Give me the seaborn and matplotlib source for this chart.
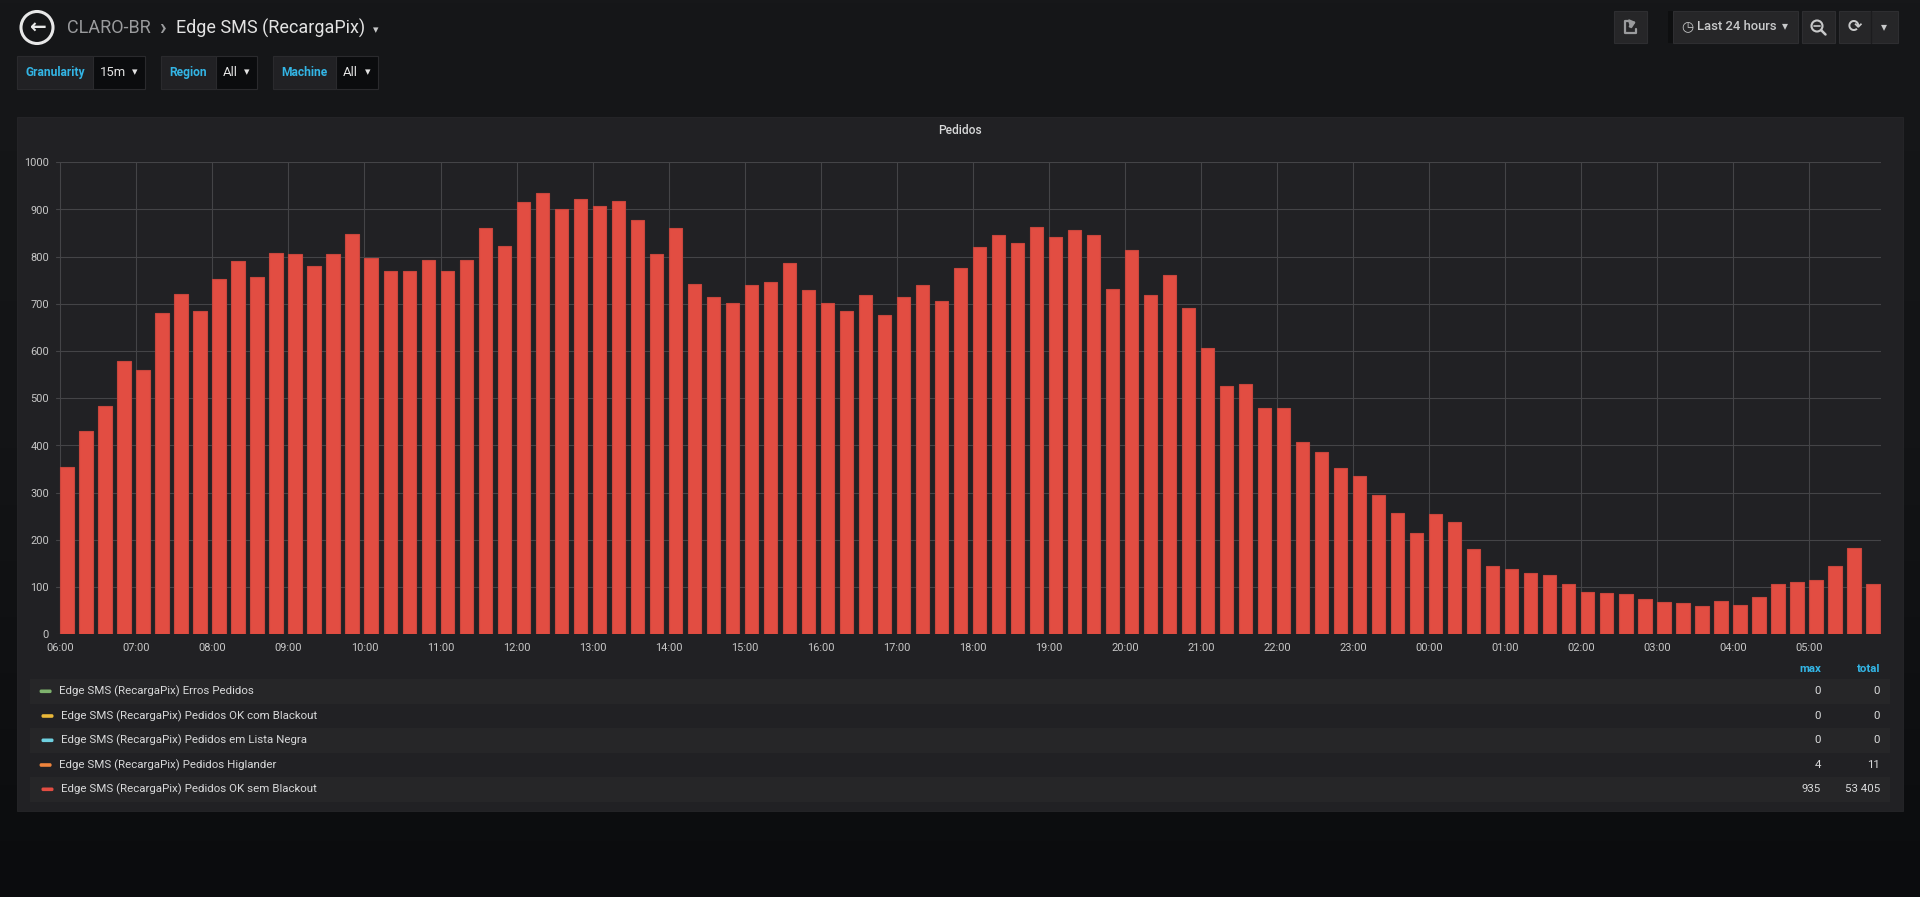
import numpy as np
import pandas as pd
import matplotlib
matplotlib.use("Agg")
import matplotlib.pyplot as plt
from matplotlib.patches import Rectangle, Circle, FancyBboxPatch, FancyArrowPatch
from matplotlib.colors import LinearSegmentedColormap
import seaborn as sns

# ---------------- data ----------------
pedidos = [355, 431, 484, 578, 561, 681, 720, 686, 752, 790, 757, 807,
           806, 781, 805, 849, 797, 770, 770, 794, 770, 792, 860, 823,
           916, 935, 900, 922, 907, 917, 877, 806, 860, 742, 715, 701,
           739, 746, 786, 730, 701, 684, 718, 676, 714, 739, 706, 775,
           820, 847, 828, 862, 842, 856, 847, 731, 814, 718, 761, 691,
           606, 527, 530, 480, 479, 408, 386, 353, 335, 295, 256, 214,
           255, 238, 181, 145, 138, 130, 125, 106, 90, 88, 85, 74,
           68, 66, 59, 71, 63, 78, 106, 110, 114, 145, 183, 106]
slot_times = [f"{(6 + i // 4) % 24:02d}:{(i % 4) * 15:02d}" for i in range(len(pedidos))]
hour_labels = ["06:00", "07:00", "08:00", "09:00", "10:00", "11:00", "12:00", "13:00",
               "14:00", "15:00", "16:00", "17:00", "18:00", "19:00", "20:00", "21:00",
               "22:00", "23:00", "00:00", "01:00", "02:00", "03:00", "04:00", "05:00"]
y_ticks = [0, 100, 200, 300, 400, 500, 600, 700, 800, 900, 1000]

legend_names = ["Edge SMS (RecargaPix) Erros Pedidos",
                "Edge SMS (RecargaPix) Pedidos OK com Blackout",
                "Edge SMS (RecargaPix) Pedidos em Lista Negra",
                "Edge SMS (RecargaPix) Pedidos Higlander",
                "Edge SMS (RecargaPix) Pedidos OK sem Blackout"]
legend_colors = ["#7eb26d", "#eab839", "#6ed0e0", "#ef843c", "#e24d42"]
legend_max = ["0", "0", "0", "4", "935"]
legend_total = ["0", "0", "0", "11", "53 405"]

df = pd.DataFrame({"slot": slot_times, "pedidos": pedidos})

# ---------------- style ----------------
sns.set_theme(style="dark")
plt.rcParams["font.family"] = ["Roboto", "DejaVu Sans"]

W, H = 1920, 897
fig = plt.figure(figsize=(W / 100, H / 100), dpi=100)

# background axes in pixel coordinates
bg = fig.add_axes([0, 0, 1, 1], zorder=0)
bg.set_xlim(0, W)
bg.set_ylim(H, 0)
bg.axis("off")
grad = np.linspace(0, 1, 256).reshape(-1, 1)
cmap = LinearSegmentedColormap.from_list("bgc", ["#161719", "#131416", "#0b0c0e"])
bg.imshow(grad, extent=[0, W, H, 0], aspect="auto", cmap=cmap, zorder=0)

PX = 0.72  # points per pixel at 100 dpi


def fs(px):
    return px * PX


TXT = "#d8d9da"
CYAN = "#33b5e5"

# ---- header ----
bg.add_patch(Circle((37, 27.5), 16, fill=False, edgecolor="#e8e8e8", linewidth=2.2, zorder=2))
bg.text(37, 28, "←", color="#e8e8e8", fontsize=fs(20), fontweight="bold",
        ha="center", va="center", family=["DejaVu Sans"], zorder=3)
bg.text(67, 28, "CLARO-BR", color="#9a9b9d", fontsize=fs(18), ha="left", va="center", zorder=3)
bg.text(162, 28, "›", color="#9a9b9d", fontsize=fs(22), fontweight="bold", ha="center", va="center", zorder=3)
bg.text(176, 28, "Edge SMS (RecargaPix)", color="#e3e3e3", fontsize=fs(18), ha="left", va="center", zorder=3)
bg.text(376, 30, "▾", color="#c8c9ca", fontsize=fs(11), ha="center", va="center",
        family=["DejaVu Sans"], zorder=3)

# ---- variable selectors ----
selectors = [("Granularity", "15m", 16.5, 93, 145),
             ("Region", "All", 161, 216, 257),
             ("Machine", "All", 273, 336, 378)]
for lab, val, x0, x1, x2 in selectors:
    bg.add_patch(Rectangle((x0, 55.7), x1 - x0, 33.6, facecolor="#212124",
                           edgecolor="#2a2a2d", linewidth=0.8, zorder=2))
    bg.add_patch(Rectangle((x1, 55.7), x2 - x1, 33.6, facecolor="#0b0c0e",
                           edgecolor="#2a2a2d", linewidth=0.8, zorder=2))
    bg.text((x0 + x1) / 2, 72.5, lab, color=CYAN, fontsize=fs(12), fontweight="semibold",
            ha="center", va="center", zorder=3)
    bg.text(x1 + 7, 72.5, val, color="#e3e3e3", fontsize=fs(13), ha="left", va="center", zorder=3)
    bg.text(x2 - 10, 72.5, "▾", color="#e3e3e3", fontsize=fs(11), ha="center", va="center",
            family=["DejaVu Sans"], zorder=3)

# ---- top right buttons ----
buttons = [(1614, 1647), (1673, 1798), (1802, 1835), (1839, 1898)]
for x0, x1 in buttons:
    bg.add_patch(Rectangle((x0, 11), x1 - x0, 31.7, facecolor="#262628",
                           edgecolor="#2e2e31", linewidth=0.8, zorder=2))
bg.add_patch(Rectangle((1668, 11), 5, 31.7, facecolor="#0e0f10", edgecolor="none", zorder=2))
bg.plot([1871, 1871], [11, 42.7], color="#1c1c1e", linewidth=1, zorder=3)
# share icon: open box with arrow
bg.plot([1630, 1624.5, 1624.5, 1636, 1636], [21, 21, 33.5, 33.5, 29],
        color="#9a9b9d", linewidth=1.6, zorder=3, solid_capstyle="round")
bg.add_patch(FancyArrowPatch((1628.5, 29), (1638.5, 21.5), connectionstyle="arc3,rad=-0.3",
                             arrowstyle="-|>,head_length=3,head_width=2.5", color="#9a9b9d",
                             linewidth=1.6, zorder=3))
bg.text(1687, 27, "◷", color="#c8c9ca", fontsize=fs(14), ha="center", va="center",
        family=["DejaVu Sans"], zorder=3)
bg.text(1697, 27, "Last 24 hours", color="#c8c9ca", fontsize=fs(13), fontweight="medium",
        ha="left", va="center", zorder=3)
bg.text(1785, 26, "▾", color="#c8c9ca", fontsize=fs(12), ha="center", va="center",
        family=["DejaVu Sans"], zorder=3)
bg.add_patch(Circle((1817, 26), 5.5, fill=False, edgecolor="#c8c9ca", linewidth=1.5, zorder=3))
bg.plot([1814, 1820], [26, 26], color="#c8c9ca", linewidth=1.2, zorder=3)
bg.plot([1821, 1825.5], [30, 34.5], color="#c8c9ca", linewidth=1.8, zorder=3)
bg.text(1855, 27, "⟳", color="#c8c9ca", fontsize=fs(17), fontweight="bold", ha="center", va="center",
        family=["DejaVu Sans"], zorder=3)
bg.text(1884, 27, "▾", color="#c8c9ca", fontsize=fs(12), ha="center", va="center",
        family=["DejaVu Sans"], zorder=3)

# ---- panel ----
bg.add_patch(Rectangle((17, 117), 1903 - 17, 811 - 117, facecolor="#212124",
                       edgecolor="#262629", linewidth=0.6, zorder=1))
bg.text(960, 130, "Pedidos", color=TXT, fontsize=fs(12), fontweight="medium",
        ha="center", va="center", zorder=3)

# ---- legend ----
row_top = [679, 703.7, 728, 752.7, 777]
row_h = 24.6
for i, (name, col, mx, tot) in enumerate(zip(legend_names, legend_colors, legend_max, legend_total)):
    yt = row_top[i]
    yc = yt + row_h / 2
    if i % 2 == 0:
        bg.add_patch(Rectangle((30, yt), 1890 - 30, row_h, facecolor="#262628",
                               edgecolor="none", zorder=2))
    sx = 39.6 if i in (0, 3) else 41.5
    bg.add_patch(FancyBboxPatch((sx, yc - 1.8), 12, 3.6, boxstyle="round,pad=0,rounding_size=1.5",
                                facecolor=col, edgecolor="none", zorder=3))
    bg.text(sx + 19.5, yc, name, color=TXT, fontsize=fs(11.5), ha="left", va="center", zorder=3)
    bg.text(1821, yc, mx, color=TXT, fontsize=fs(11.5), ha="right", va="center", zorder=3)
    bg.text(1880, yc, tot, color=TXT, fontsize=fs(11.5), ha="right", va="center", zorder=3)
bg.text(1821, 669, "max", color=CYAN, fontsize=fs(11.5), fontweight="bold", ha="right", va="center", zorder=3)
bg.text(1880, 669, "total", color=CYAN, fontsize=fs(11.5), fontweight="bold", ha="right", va="center", zorder=3)

# ---------------- main chart ----------------
ax_l, ax_r, ax_t, ax_b = 56, 1881, 162.3, 634.3
ax = fig.add_axes([ax_l / W, 1 - ax_b / H, (ax_r - ax_l) / W, (ax_b - ax_t) / H], zorder=2)
ax.set_facecolor("none")

BW = 0.7
sns.barplot(data=df, x="slot", y="pedidos", color="#e24d42", saturation=1, width=BW,
            edgecolor="#c9463d", linewidth=0.8, errorbar=None, ax=ax, zorder=3)

slot_px = (1809.3 - 60.33) / 92.0
x0 = -BW / 2 - (60.33 - ax_l) / slot_px
ax.set_xlim(x0, x0 + (ax_r - ax_l) / slot_px)
ax.set_ylim(0, 1000)

hour_pos = [slot_times.index(h) - BW / 2 for h in hour_labels]
ax.set_xticks(hour_pos)
ax.set_xticklabels(hour_labels)
ax.set_yticks(y_ticks)
ax.set_yticklabels([str(v) for v in y_ticks])
ax.set_xlabel("")
ax.set_ylabel("")

ax.grid(True, color="#444447", linewidth=0.8)
ax.set_axisbelow(True)
for s in ax.spines.values():
    s.set_visible(False)
ax.tick_params(axis="both", length=0, colors="#c7c7c7", labelsize=fs(11))
ax.tick_params(axis="x", pad=6)
ax.tick_params(axis="y", pad=5)

fig.savefig("out.png", dpi=100, facecolor="#161719")
